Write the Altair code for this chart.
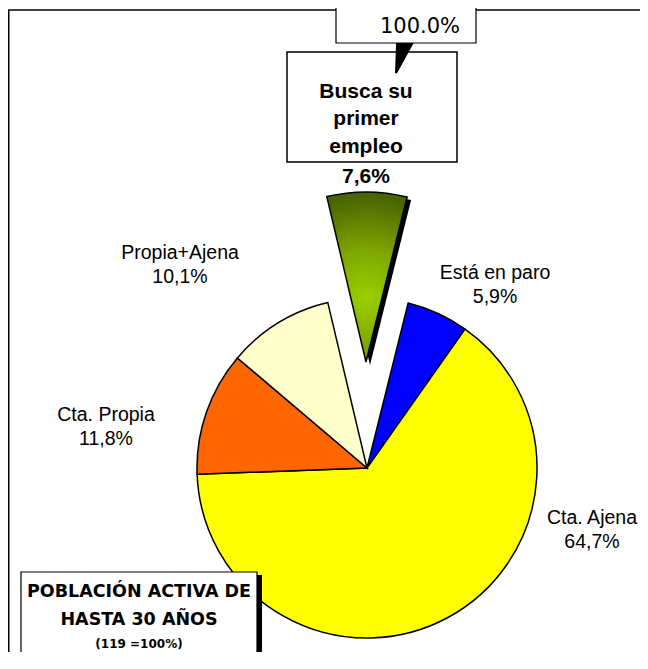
import math
import altair as alt
import pandas as pd

# ---- data ----
categories = ["Está en paro", "Cta. Ajena", "Cta. Propia", "Propia+Ajena", "Busca su primer empleo"]
values = [5.9, 64.7, 11.8, 10.1, 7.6]
colors = ["#0000FF", "#FFFF00", "#FF6600", "#FFFFCC", "#8CB800"]
explode_cat = "Busca su primer empleo"
total_label = "100.0%"
title_lines = ["POBLACIÓN ACTIVA DE", "HASTA 30 AÑOS", "(119 =100%)"]

df = pd.DataFrame({"cat": categories, "value": values, "idx": list(range(len(categories)))})


def pct(v):
    return f"{v:.1f}".replace(".", ",") + "%"


start = math.radians(14)
CX, CY, R = 359, 460, 170
EX, EY = 358, 354  # exploded slice centre

theta = alt.Theta("value:Q", stack=True, scale=alt.Scale(range=[start, start + 2 * math.pi]))
order = alt.Order("idx:Q", sort="ascending")
is_exp = alt.datum.cat == explode_cat

base = alt.Chart(df)

pie = base.mark_arc(outerRadius=R, stroke="black", strokeWidth=1.5).encode(
    theta=theta,
    order=order,
    color=alt.Color("cat:N", scale=alt.Scale(domain=categories, range=colors), legend=None),
    opacity=alt.condition(is_exp, alt.value(0), alt.value(1)),
    x=alt.value(CX), y=alt.value(CY),
)

shadow = base.mark_arc(outerRadius=R, fill="black").encode(
    theta=theta, order=order,
    opacity=alt.condition(is_exp, alt.value(1), alt.value(0)),
    x=alt.value(EX + 4), y=alt.value(EY + 3),
)

grad = {
    "gradient": "radial",
    "x1": 0.5, "y1": 0.62, "r1": 0,
    "x2": 0.5, "y2": 0.62, "r2": 0.6,
    "stops": [
        {"offset": 0, "color": "#9BD000"},
        {"offset": 0.45, "color": "#7FA800"},
        {"offset": 1, "color": "#4A6400"},
    ],
}
green = base.mark_arc(outerRadius=R, fill=grad, stroke="black", strokeWidth=1.5).encode(
    theta=theta, order=order,
    opacity=alt.condition(is_exp, alt.value(1), alt.value(0)),
    x=alt.value(EX), y=alt.value(EY),
)

one = alt.Data(values=[{"a": 1}])


def box(x, x2, y, y2, fill="white", stroke="black", sw=1.2):
    return alt.Chart(one).mark_rect(fill=fill, stroke=stroke, strokeWidth=sw).encode(
        x=alt.value(x), x2=alt.value(x2), y=alt.value(y), y2=alt.value(y2))


def txt(s, x, y, size, font="Liberation Sans", weight="normal"):
    return alt.Chart(one).mark_text(
        text=s, font=font, fontSize=size, fontWeight=weight, color="black",
        align="center", baseline="alphabetic",
    ).encode(x=alt.value(x), y=alt.value(y))


# frame: only top and left edges are visible in the picture
border_top = box(0, 632, 1.25, 2.75, fill="black", stroke="black", sw=0)
border_left = box(0, 1.5, 2, 644, fill="black", stroke="black", sw=0)
total_box = box(328, 468, -10, 35)
total_txt = txt(total_label, 412, 25, 21, font="DejaVu Sans")

callout = box(279, 449, 44, 154, sw=1.5)
arrow = alt.Chart(one).mark_point(
    shape="M -0.48 -1 L 0.55 -1 L -0.55 1 Z", size=841, filled=True,
    fill="black", stroke="black", opacity=1,
).encode(x=alt.value(396), y=alt.value(50.5))

words = explode_cat.split(" ")
call_lines = [" ".join(words[:2]), words[2], words[3]]
callout_txt = [
    txt(call_lines[0], 358, 90, 21, weight="bold"),
    txt(call_lines[1], 358, 117, 21, weight="bold"),
    txt(call_lines[2], 358, 145, 21, weight="bold"),
    txt(pct(values[4]), 358, 175, 21, weight="bold"),
]

label_pos = {
    "Está en paro": (487, 271),
    "Cta. Ajena": (584, 516),
    "Cta. Propia": (98, 413),
    "Propia+Ajena": (172, 251),
}
labels = []
for c, v in zip(categories, values):
    if c in label_pos:
        lx, ly = label_pos[c]
        labels.append(txt(c, lx, ly, 19.5))
        labels.append(txt(pct(v), lx, ly + 24, 19.5))

bl_shadow = box(249, 254, 567, 660, fill="black", stroke="black", sw=0)
bl_box = box(13, 249, 564, 660, sw=1.2)
bl_txt = [
    txt(title_lines[0], 131, 589, 17.5, font="DejaVu Sans", weight="bold"),
    txt(title_lines[1], 131, 617, 17.5, font="DejaVu Sans", weight="bold"),
    txt(title_lines[2], 131, 640, 12, font="DejaVu Sans", weight="bold"),
]

chart = alt.layer(
    border_top, border_left, pie, shadow, green, total_box, total_txt, callout, arrow,
    *callout_txt, *labels, bl_shadow, bl_box, *bl_txt,
).properties(
    width=632, height=644, autosize="none", padding=0,
).configure_view(stroke="transparent", strokeWidth=0)

chart.save("out.html", embed_options={"renderer": "svg", "actions": False})
